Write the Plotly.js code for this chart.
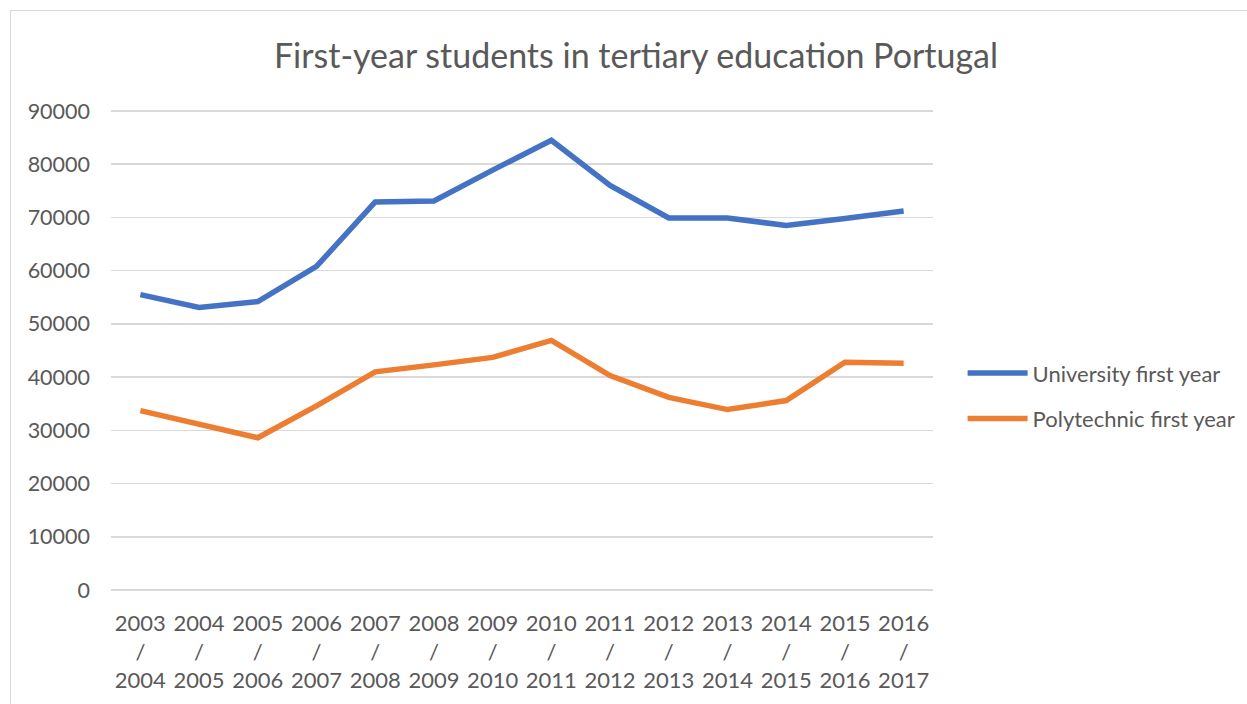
<!DOCTYPE html>
<html>
<head>
<meta charset="utf-8">
<script src="https://cdn.plot.ly/plotly-3.0.1.min.js"></script>
<style>
  html, body { margin: 0; padding: 0; background: #ffffff; overflow: hidden; }
  #frame { position: absolute; left: 10px; top: 10px; width: 1400px; height: 900px; border: 1.5px solid #d9d9d9; box-sizing: border-box; }
  #chart { position: absolute; left: 0; top: 0; width: 1247px; height: 704px; }
</style>
</head>
<body>
<div id="frame"></div>
<div id="chart"></div>
<script>
const startYears = ["2003","2004","2005","2006","2007","2008","2009","2010","2011","2012","2013","2014","2015","2016"];
const endYears   = ["2004","2005","2006","2007","2008","2009","2010","2011","2012","2013","2014","2015","2016","2017"];
const categories = startYears.map((s, i) => s + "/" + endYears[i]);
const tickLabels = startYears.map((s, i) => s + "<br>/<br>" + endYears[i]);

const universityFirstYear  = [55500, 53100, 54200, 60800, 72900, 73100, 78900, 84500, 76000, 69900, 69900, 68500, 69800, 71200];
const polytechnicFirstYear = [33700, 31100, 28600, 34600, 41000, 42300, 43700, 46900, 40300, 36200, 33900, 35600, 42800, 42600];

const fontFamily = "Lato, 'Open Sans', sans-serif";
const textColor = "#595959";

const traces = [
  { x: categories, y: universityFirstYear, type: "scatter", mode: "lines", name: "University first year",
    legendgroup: "u", line: { color: "#4472C4", width: 5.5 } },
  { x: categories, y: polytechnicFirstYear, type: "scatter", mode: "lines", name: "Polytechnic first year",
    legendgroup: "p", line: { color: "#ED7D31", width: 5.5 } }
];

const layout = {
  width: 1247, height: 704,
  paper_bgcolor: "rgba(0,0,0,0)", plot_bgcolor: "rgba(0,0,0,0)",
  margin: { l: 111, r: 314, t: 110, b: 113, autoexpand: false },
  title: { text: "First-year students in tertiary education Portugal",
           font: { family: fontFamily, size: 34, color: textColor },
           x: 0.51, xanchor: "center", y: 0.921, yanchor: "middle" },
  xaxis: { type: "category", range: [-0.5, 13.5], tickmode: "array", tickvals: categories, ticktext: tickLabels,
           showgrid: false, zeroline: false, showline: false, ticks: "",
           tickfont: { family: fontFamily, size: 22, color: textColor }, tickangle: 0, ticklabelstandoff: 17 },
  yaxis: { range: [-190, 90190], tickmode: "linear", tick0: 0, dtick: 10000,
           showgrid: true, gridcolor: "#d9d9d9", gridwidth: 1.5, zeroline: false, showline: false, ticks: "",
           tickformat: "d",
           tickfont: { family: fontFamily, size: 21.5, color: textColor }, ticklabelstandoff: 20 },
  showlegend: true,
  legend: { x: 1.036, xanchor: "left", y: 0.405, yanchor: "middle",
            font: { family: fontFamily, size: 22, color: textColor },
            itemwidth: 60, tracegroupgap: 14, bgcolor: "rgba(0,0,0,0)" },
  hovermode: false
};

Plotly.newPlot("chart", traces, layout, { displayModeBar: false, staticPlot: true });
</script>
</body>
</html>
